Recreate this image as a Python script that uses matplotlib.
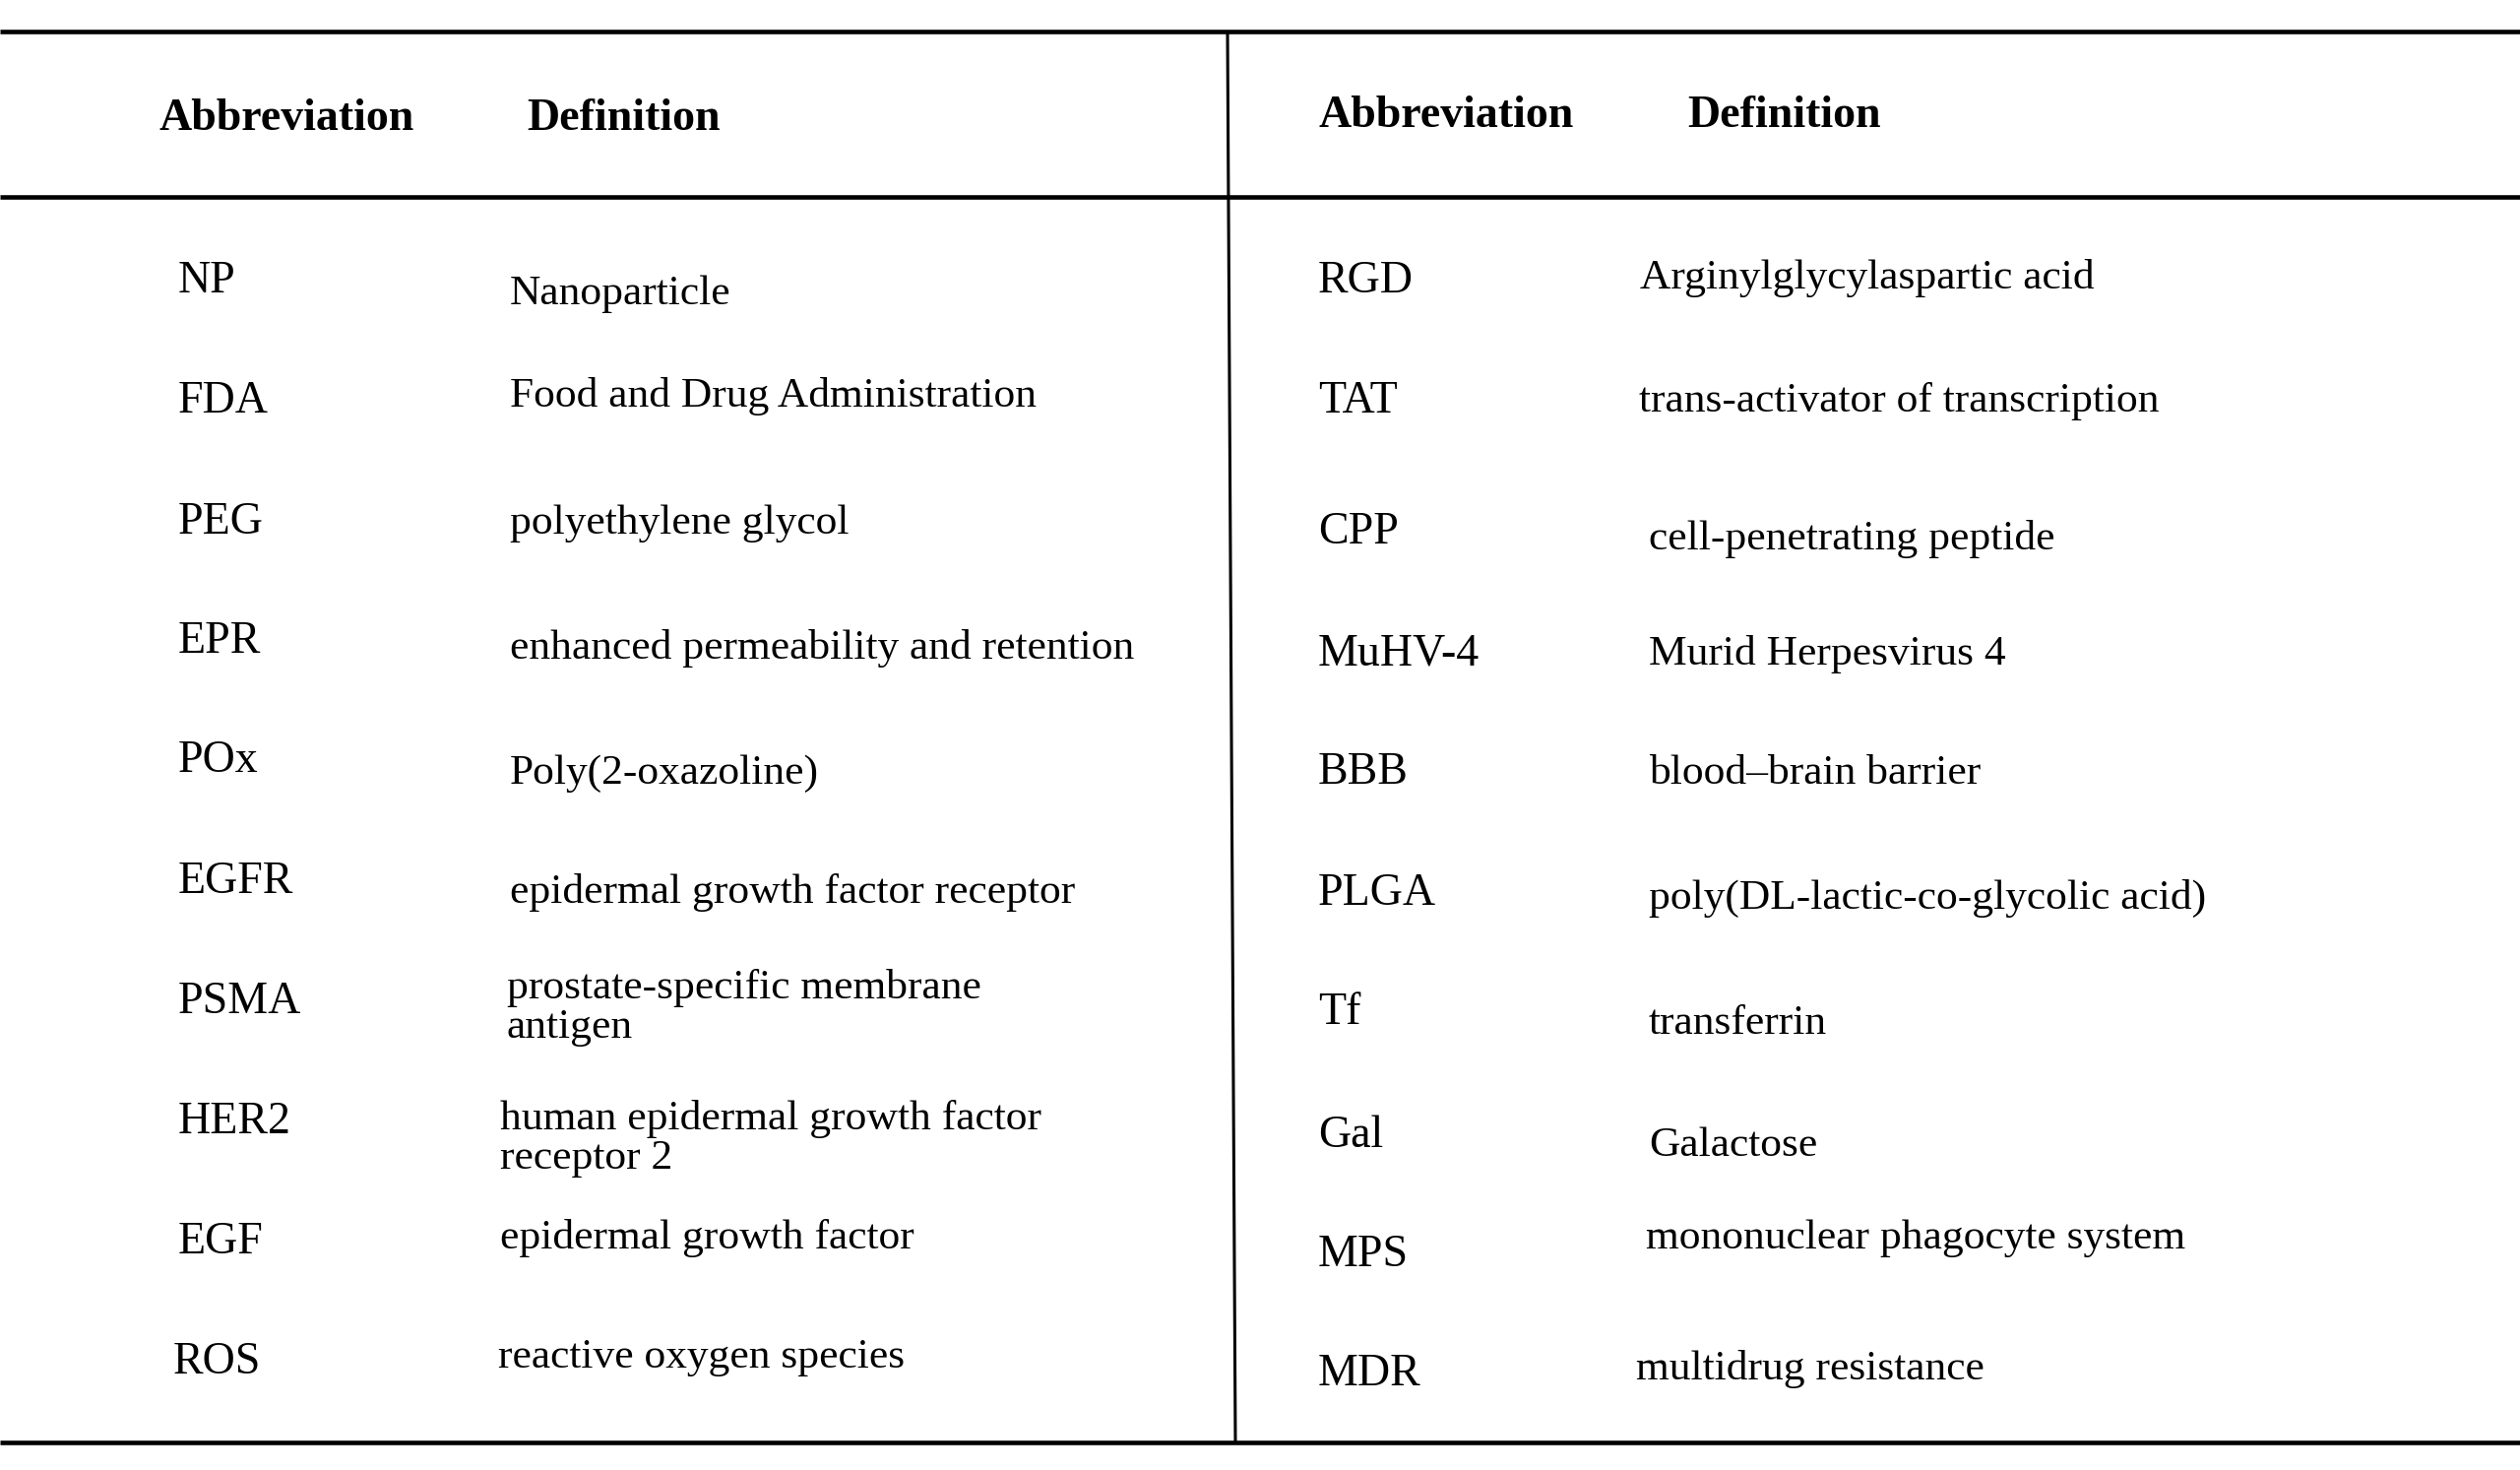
import matplotlib
matplotlib.use('Agg')
import matplotlib.pyplot as plt

# table content
headers = ['Abbreviation', 'Definition']

left_abbr = ['NP', 'FDA', 'PEG', 'EPR', 'POx', 'EGFR', 'PSMA', 'HER2', 'EGF', 'ROS']
left_defs = [
    'Nanoparticle',
    'Food and Drug Administration',
    'polyethylene glycol',
    'enhanced permeability and retention',
    'Poly(2-oxazoline)',
    'epidermal growth factor receptor',
    'prostate-specific membrane\nantigen',
    'human epidermal growth factor\nreceptor 2',
    'epidermal growth factor',
    'reactive oxygen species',
]

right_abbr = ['RGD', 'TAT', 'CPP', 'MuHV-4', 'BBB', 'PLGA', 'Tf', 'Gal', 'MPS', 'MDR']
right_defs = [
    'Arginylglycylaspartic acid',
    'trans-activator of transcription',
    'cell-penetrating peptide',
    'Murid Herpesvirus 4',
    'blood\u2013brain barrier',
    'poly(DL-lactic-co-glycolic acid)',
    'transferrin',
    'Galactose',
    'mononuclear phagocyte system',
    'multidrug resistance',
]

# layout (pixel coords, baselines) - the source table is a bit uneven
W, H = 2560, 1493
left_abbr_x = [181, 181, 181, 181, 181, 181, 181, 181, 181, 176]
left_abbr_y = [297, 419, 542, 663, 784, 907, 1029, 1151, 1273, 1395]
left_def_x = [518, 518, 518, 518, 518, 518, 515, 508, 508, 506]
left_def_y = [309, 413, 542, 669, 796, 917, 1014, 1147, 1268, 1389]

right_abbr_x = [1339] * 10
right_abbr_y = [297, 419, 552, 675, 796, 919, 1040, 1165, 1286, 1407]
right_def_x = [1666, 1665, 1675, 1675, 1675, 1675, 1675, 1675, 1672, 1662]
right_def_y = [293, 418, 558, 675, 796, 923, 1050, 1174, 1268, 1401]

header_pos = [((161, 132), (535, 132)), ((1339, 129), (1714, 129))]

FONT = ['Liberation Serif', 'DejaVu Serif']
LINE_GAP = 40

fig = plt.figure(figsize=(W / 100, H / 100), dpi=100)
ax = fig.add_axes([0, 0, 1, 1])
ax.set_xlim(0, W)
ax.set_ylim(H, 0)
ax.axis('off')

# rules
for y in (32, 200, 1465):
    ax.plot([0, W], [y, y], color='black', lw=3.3, solid_capstyle='butt')
ax.plot([1247, 1255], [32, 1465], color='black', lw=2.2, solid_capstyle='butt')

# headers
for (ab, df) in header_pos:
    ax.text(ab[0], ab[1], headers[0], family=FONT, fontsize=33,
            fontweight='bold', va='baseline', ha='left')
    ax.text(df[0], df[1], headers[1], family=FONT, fontsize=33,
            fontweight='bold', va='baseline', ha='left')


def draw_col(labels, xs, ys, size):
    for lab, x, y in zip(labels, xs, ys):
        for i, line in enumerate(lab.split('\n')):
            ax.text(x, y + i * LINE_GAP, line, family=FONT, fontsize=size,
                    va='baseline', ha='left')


draw_col(left_abbr, left_abbr_x, left_abbr_y, 33)
draw_col(left_defs, left_def_x, left_def_y, 31.3)
draw_col(right_abbr, right_abbr_x, right_abbr_y, 33)
draw_col(right_defs, right_def_x, right_def_y, 31.3)

plt.savefig('out.png', dpi=100)
plt.close()
